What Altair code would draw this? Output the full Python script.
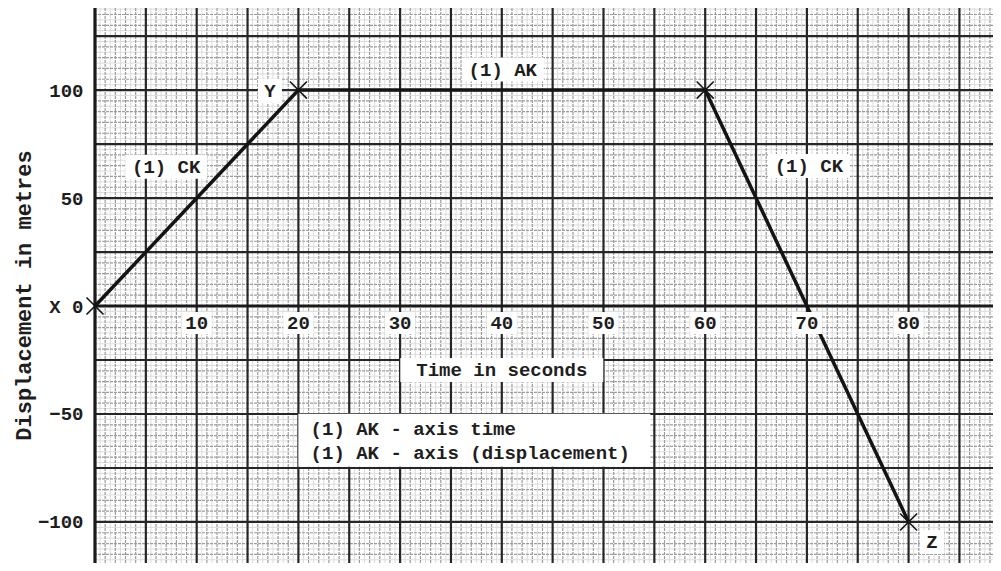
import altair as alt
import numpy as np
import pandas as pd

# ---- data ----
time_s = [0, 20, 60, 70, 80]
displacement_m = [0, 100, 100, 0, -100]
x_tick_values = [10, 20, 30, 40, 50, 60, 70, 80]
y_tick_values = [-100, -50, 0, 50, 100]
y_title = "Displacement in metres"
x_title = "Time in seconds"
point_names = ["Y", "Z"]
point_name_t = [17.2, 82.3]
point_name_d = [99.7, -109.3]
mark_labels = ["(1) AK", "(1) CK", "(1) CK"]
mark_label_t = [40.1, 7.0, 70.2]
mark_label_d = [109.5, 64.5, 64.8]
legend_lines = ["(1) AK - axis time", "(1) AK - axis (displacement)"]
legend_line_d = [-57.0, -68.2]

FONT = "Liberation Mono"
INK = "#1e1e1e"
X_DOM = [0, 88.3]
Y_DOM = [-119, 138]
xs = alt.Scale(domain=X_DOM, nice=False, zero=False)
ys = alt.Scale(domain=Y_DOM, nice=False, zero=False)

YAX = alt.Axis(
    values=y_tick_values,
    labelExpr="datum.value == 0 ? 'X 0' : datum.label",
    ticks=False, domain=False, grid=False,
    labelFont=FONT, labelFontSize=19, labelFontWeight="bold",
    labelColor=INK, labelPadding=12,
    title=y_title, titleFont=FONT, titleFontSize=22,
    titleFontWeight="bold", titleColor=INK, titleAngle=-90,
    titleX=-72, titleY=287, titleAlign="center", titleBaseline="middle",
)


def X(field):
    return alt.X(field, scale=xs, axis=None)


def Y(field):
    return alt.Y(field, scale=ys, axis=YAX)


def box_shape(w, h):
    a, b = w / 2, h / 2
    return f"M{-a},{-b}L{a},{-b}L{a},{b}L{-a},{b}Z"


# ---- graph paper grid ----
def vrules(values, color, width, dash=None):
    kw = dict(color=color, strokeWidth=width)
    if dash:
        kw["strokeDash"] = dash
    return alt.Chart(pd.DataFrame({"v": values})).mark_rule(**kw).encode(x=X("v:Q"))


def hrules(values, color, width, dash=None):
    kw = dict(color=color, strokeWidth=width)
    if dash:
        kw["strokeDash"] = dash
    return alt.Chart(pd.DataFrame({"v": values})).mark_rule(**kw).encode(y=Y("v:Q"))


fine_x = [v for v in np.arange(0.5, 88.3, 1.0)]
fine_y = [v for v in np.arange(-117.5, 138, 5.0)]
minor_x = [v for v in range(1, 89) if v % 5]
minor_y = [v for v in range(-115, 138, 5) if v % 25]
major_x = list(range(5, 89, 5))
major_y = [v for v in range(-100, 138, 25) if v != 0]

grid = [
    vrules(fine_x, "#dcdcdc", 1),
    hrules(fine_y, "#dcdcdc", 1),
    vrules(minor_x, "#9c9c9c", 1.2, [3, 1]),
    hrules(minor_y, "#9c9c9c", 1.2, [3, 1]),
    vrules(major_x, "#262626", 2.2),
    hrules(major_y, "#262626", 2.2),
    vrules([0], "#1a1a1a", 3.2),
    hrules([0], "#1a1a1a", 3.2),
]

# ---- motion line ----
df = pd.DataFrame({"t": time_s, "d": displacement_m})
line = alt.Chart(df).mark_line(color="#141414", strokeWidth=3.5).encode(
    x=X("t:Q"), y=Y("d:Q"))

crosses = alt.Chart(df.iloc[[0, 1, 2, 4]]).mark_point(
    shape="M-1,-1L1,1M-1,1L1,-1", size=290, filled=False,
    color="#141414", strokeWidth=1.6, opacity=1,
).encode(x=X("t:Q"), y=Y("d:Q"))


# ---- white label boxes and texts ----
def boxed(texts, ts, ds, w, h, dy=0):
    d = pd.DataFrame({"label": texts, "t": ts, "d": ds})
    bx = alt.Chart(d).mark_point(
        shape=box_shape(w, h), size=4, filled=True, fill="white",
        stroke=None, opacity=1, yOffset=dy,
    ).encode(x=X("t:Q"), y=Y("d:Q"))
    tx = alt.Chart(d).mark_text(
        font=FONT, fontSize=19, fontWeight="bold", color=INK,
        align="center", baseline="middle", dy=dy,
    ).encode(text="label:N", x=X("t:Q"), y=Y("d:Q"))
    return [bx, tx]


layers = grid + [line]
layers += boxed([str(v) for v in x_tick_values], x_tick_values,
                [0] * len(x_tick_values), 30, 22, dy=17)
layers += boxed(point_names, point_name_t, point_name_d, 24, 24)
layers += boxed(mark_labels, mark_label_t, mark_label_d, 82, 24)
layers += boxed([x_title], [40.0], [-29.6], 203, 24)

# legend-like box
legend_box = alt.Chart(pd.DataFrame({"t": [37.3], "d": [-62.2]})).mark_point(
    shape=box_shape(352, 53), size=4, filled=True, fill="white",
    stroke=None, opacity=1,
).encode(x=X("t:Q"), y=Y("d:Q"))
legend_text = alt.Chart(pd.DataFrame({
    "label": legend_lines, "t": [21.2] * 2, "d": legend_line_d})).mark_text(
    font=FONT, fontSize=19, fontWeight="bold", color=INK,
    align="left", baseline="middle",
).encode(x=X("t:Q"), y=Y("d:Q"), text="label:N")
layers += [legend_box, legend_text, crosses]

chart = alt.layer(*layers).properties(
    width=898, height=555,
    autosize=alt.AutoSizeParams(type="none"),
    padding={"left": 87, "top": 0, "right": 0, "bottom": 0},
    background="white",
).configure_view(stroke=None)

chart.save("out.html", embed_options={"renderer": "svg", "actions": False})
